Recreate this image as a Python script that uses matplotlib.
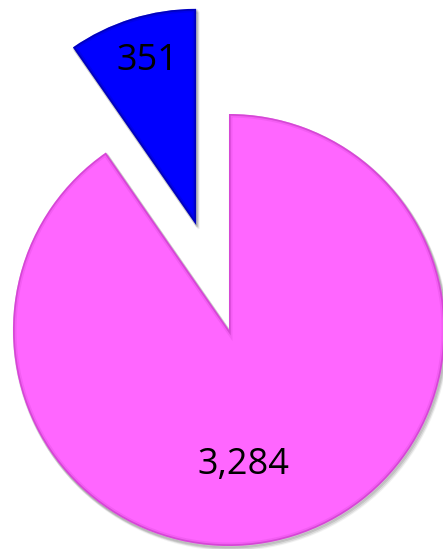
import matplotlib
matplotlib.use("Agg")
import matplotlib.pyplot as plt
from matplotlib.patches import Wedge
import numpy as np

categories = ["A", "B"]
values = [351, 3284]
labels = ["351", "3,284"]
colors = ["#0000FF", "#FF66FF"]
edge_dark = ["#00006A", "#A020A0"]

fig = plt.figure(figsize=(4.43, 5.49), dpi=100)
ax = fig.add_axes([0, 0, 1, 1])

wedges, _ = ax.pie(values, colors=colors, startangle=90, counterclock=True,
                   explode=[0.51, 0], radius=1.0,
                   wedgeprops=dict(linewidth=0, zorder=3))
ax.set_xlim(-229 / 216, 214 / 216)
ax.set_ylim(-219 / 216, 330 / 216)
ax.axis("off")

# soft drop shadow
for w in wedges:
    for dx, dy, a in [(0.012, -0.018, 0.08), (0.008, -0.012, 0.10), (0.004, -0.007, 0.14)]:
        s = Wedge((w.center[0] + dx, w.center[1] + dy), w.r, w.theta1, w.theta2,
                  facecolor="#555555", edgecolor="#555555", linewidth=1.5,
                  alpha=a, zorder=1)
        ax.add_patch(s)

# inner bevel darkening
for w, ec in zip(wedges, edge_dark):
    for lw, a in [(5, 0.12), (2.5, 0.35)]:
        b = Wedge(w.center, w.r, w.theta1, w.theta2, facecolor="none",
                  edgecolor=ec, linewidth=lw, alpha=a, zorder=4)
        ax.add_patch(b)
        b.set_clip_path(w)

# labels
label_pos = [(106.6, 0.79), (-84.0, 0.63)]
for w, lab, (ang, r) in zip(wedges, labels, label_pos):
    t = np.deg2rad(ang)
    ax.text(w.center[0] + r * np.cos(t), w.center[1] + r * np.sin(t), lab,
            ha="center", va="center", fontsize=26, color="black",
            family="Open Sans", zorder=6)

fig.savefig("out.png", dpi=100)
